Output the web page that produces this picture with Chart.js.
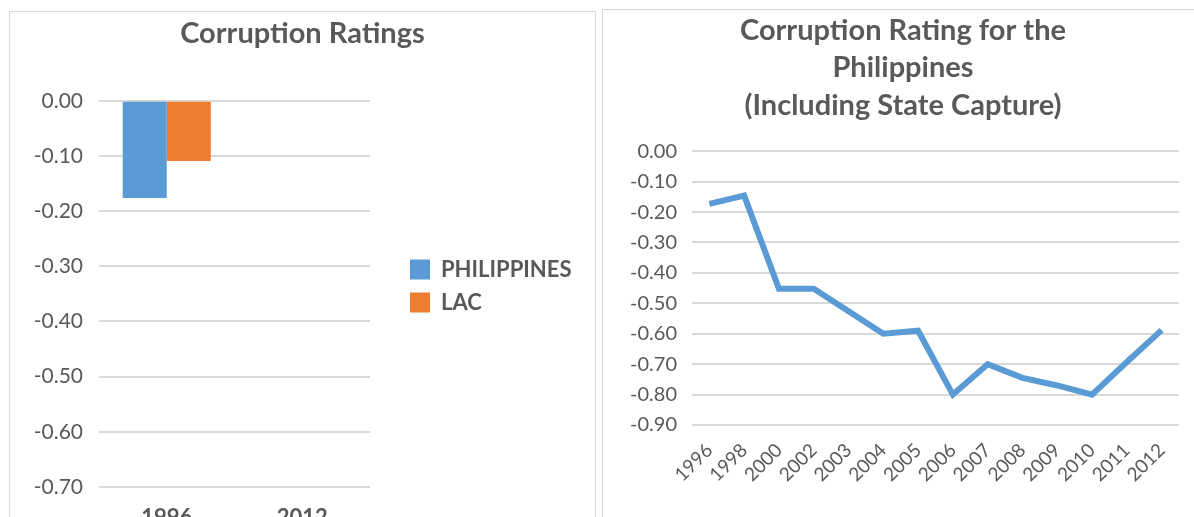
<!DOCTYPE html>
<html>
<head>
<meta charset="utf-8">
<script src="https://cdn.jsdelivr.net/npm/chart.js@4.4.1/dist/chart.umd.min.js"></script>
<style>
  html, body { margin: 0; padding: 0; background: #fff; overflow: hidden; width: 1194px; height: 517px; }
  .frame { position: absolute; border: 1px solid #d9d9d9; box-sizing: border-box; }
  .box { position: absolute; }
</style>
</head>
<body>
<div class="frame" style="left:9px; top:11px; width:587px; height:540px;"></div>
<div class="frame" style="left:602px; top:9px; width:620px; height:540px;"></div>
<div class="box" style="left:10px; top:12px; width:585px; height:530px;"><canvas id="barChart"></canvas></div>
<div class="box" style="left:603px; top:10px; width:600px; height:507px;"><canvas id="lineChart"></canvas></div>
<script>
// bar chart data
const barYears = ['1996', '2012'];
const philippines = [-0.176, null];
const lac = [-0.109, null];

// line chart data
const lineYears = ['1996', '1998', '2000', '2002', '2003', '2004', '2005', '2006', '2007', '2008', '2009', '2010', '2011', '2012'];
const phRating = [-0.173, -0.146, -0.452, -0.452, -0.526, -0.60, -0.59, -0.80, -0.70, -0.745, -0.77, -0.80, -0.693, -0.588];

const FONT = 'Lato, "Open Sans", sans-serif';
const GREY = '#595959';
const GRID = '#d9d9d9';

Chart.defaults.font.family = FONT;
Chart.defaults.color = GREY;
Chart.defaults.animation = false;

// fixed-width legend column, items pushed away from the plot
const legendFix = {
  id: 'legendFix',
  beforeLayout(chart) {
    const lg = chart.legend;
    if (!lg || lg._fixed) return;
    const fit = lg.fit;
    lg.fit = function () { fit.call(this); this.width = 225; };
    lg._fixed = true;
  },
  afterLayout(chart) {
    const lg = chart.legend;
    if (!lg) return;
    lg.left += 29; lg.right += 29;
    lg.top += 9; lg.bottom += 9;
  }
};

new Chart(document.getElementById('barChart'), {
  type: 'bar',
  data: {
    labels: barYears,
    datasets: [
      { label: 'PHILIPPINES', data: philippines, backgroundColor: '#5B9BD5', barPercentage: 1, categoryPercentage: 0.65 },
      { label: 'LAC', data: lac, backgroundColor: '#ED7D31', barPercentage: 1, categoryPercentage: 0.65 }
    ]
  },
  options: {
    responsive: true,
    maintainAspectRatio: false,
    plugins: {
      title: {
        display: true,
        text: 'Corruption Ratings',
        color: GREY,
        font: { size: 29, weight: 'bold', lineHeight: 1.2 },
        padding: { top: 4, bottom: 50 }
      },
      legend: {
        position: 'right',
        labels: {
          boxWidth: 20, boxHeight: 20, padding: 11,
          color: GREY,
          font: { size: 22, weight: 'bold' }
        }
      },
      tooltip: { enabled: false }
    },
    scales: {
      x: {
        grid: { display: false },
        border: { display: false },
        ticks: { color: GREY, font: { size: 22, weight: 'bold' }, padding: 10 },
        afterFit(s) { s.height = 55; }
      },
      y: {
        min: -0.7, max: 0,
        ticks: { stepSize: 0.1, color: GREY, font: { size: 21 }, padding: 16,
          callback: v => v.toFixed(2) },
        grid: { color: GRID, lineWidth: 2, drawTicks: false },
        border: { display: false },
        afterFit(s) { s.width = 89; }
      }
    }
  },
  plugins: [legendFix]
});

new Chart(document.getElementById('lineChart'), {
  type: 'line',
  data: {
    labels: lineYears,
    datasets: [{
      label: 'Philippines',
      data: phRating,
      borderColor: '#5B9BD5',
      borderWidth: 6,
      pointRadius: 0,
      tension: 0,
      fill: false
    }]
  },
  options: {
    responsive: true,
    maintainAspectRatio: false,
    plugins: {
      title: {
        display: true,
        text: ['Corruption Rating for the', 'Philippines', '(Including State Capture)'],
        color: GREY,
        font: { size: 29, weight: 'bold', lineHeight: 1.29 },
        padding: { top: 2, bottom: 27 }
      },
      legend: { display: false },
      tooltip: { enabled: false }
    },
    scales: {
      x: {
        offset: true,
        grid: { display: false },
        border: { display: false },
        ticks: { color: GREY, font: { size: 19 }, minRotation: 45, maxRotation: 45, padding: 6, autoSkip: false },
        afterFit(s) { s.height = 92; }
      },
      y: {
        min: -0.9, max: 0,
        ticks: { stepSize: 0.1, color: GREY, font: { size: 20 }, padding: 15,
          callback: v => v.toFixed(2) },
        grid: { color: GRID, lineWidth: 2, drawTicks: false },
        border: { display: false },
        afterFit(s) { s.width = 89; }
      },
      // empty spacer on the right
      y2: {
        position: 'right',
        grid: { display: false },
        border: { display: false },
        ticks: { display: false },
        afterFit(s) { s.width = 24; }
      }
    }
  }
});
</script>
</body>
</html>
